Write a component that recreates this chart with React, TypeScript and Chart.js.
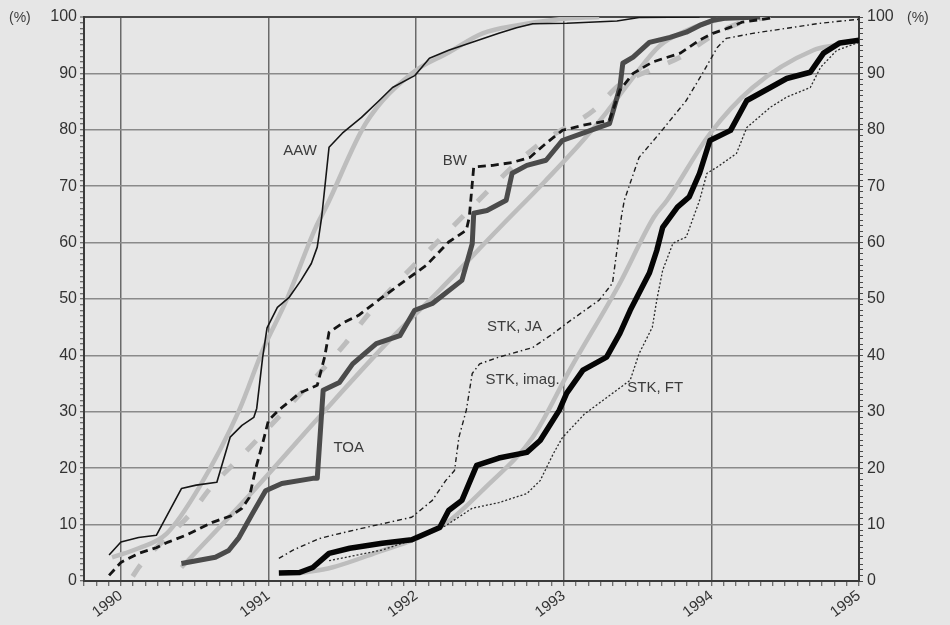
import { useEffect, useRef } from "react";
import { Chart, registerables } from "chart.js";

Chart.register(...registerables);

// ---------- axis / tick values ----------
const X_START = 1989.75;
const X_END = 1995;
const Y_MIN = 0;
const Y_MAX = 100;
const Y_LABEL_STEP = 10;

// ---------- series (decimal year, %) ----------
const aawX = [1989.92, 1990.0, 1990.12, 1990.24, 1990.41, 1990.51, 1990.65, 1990.74, 1990.82, 1990.9, 1990.92, 1990.96, 1990.99, 1991.06, 1991.14, 1991.22, 1991.29, 1991.33, 1991.36, 1991.41, 1991.5, 1991.63, 1991.75, 1991.84, 1991.99, 1992.09, 1992.22, 1992.41, 1992.56, 1992.68, 1992.79, 1993.02, 1993.36, 1993.51, 1993.92];
const aawY = [4.6, 6.9, 7.7, 8.1, 16.4, 17.0, 17.5, 25.5, 27.6, 29.0, 30.6, 39.6, 44.9, 48.5, 50.3, 53.3, 56.3, 59.2, 64.5, 76.9, 79.4, 82.2, 85.2, 87.5, 89.6, 92.7, 94.1, 95.8, 97.1, 98.1, 98.8, 98.9, 99.3, 99.9, 100];

const aawFitX = [1989.94, 1990.12, 1990.31, 1990.53, 1990.8, 1990.96, 1991.12, 1991.32, 1991.39, 1991.66, 1991.97, 1992.22, 1992.45, 1992.68, 1992.97, 1993.24];
const aawFitY = [4.2, 5.8, 8.4, 16.6, 30.2, 40.9, 49.7, 62.7, 66.3, 81.2, 90.0, 93.7, 97.1, 98.5, 99.6, 100];

const bwX = [1989.92, 1990.0, 1990.12, 1990.24, 1990.32, 1990.44, 1990.62, 1990.75, 1990.82, 1990.87, 1990.91, 1990.96, 1991.0, 1991.07, 1991.21, 1991.33, 1991.38, 1991.41, 1991.5, 1991.61, 1991.76, 1991.88, 1992.07, 1992.22, 1992.34, 1992.36, 1992.39, 1992.52, 1992.65, 1992.77, 1992.88, 1992.99, 1993.13, 1993.31, 1993.38, 1993.47, 1993.6, 1993.79, 1993.92, 1994.01, 1994.13, 1994.21, 1994.4];
const bwY = [1.0, 3.3, 4.9, 5.9, 6.9, 8.1, 10.4, 11.6, 12.9, 14.8, 19.6, 24.4, 28.5, 30.3, 33.3, 34.7, 39.7, 44.1, 45.7, 47.1, 50.1, 52.4, 56.0, 60.1, 62.2, 64.5, 73.4, 73.7, 74.2, 75.1, 77.6, 79.9, 80.8, 81.7, 87.0, 90.0, 92.0, 93.6, 95.9, 97.1, 98.2, 99.1, 99.8];

const bwFitX = [1990.08, 1990.12, 1990.48, 1990.61, 1990.83, 1991.52, 1991.68, 1992.22, 1992.82, 1993.2, 1993.38, 1993.58, 1993.79, 1993.99, 1994.2, 1994.4];
const bwFitY = [0.8, 2.4, 12.2, 16.6, 22.5, 42.1, 47.4, 62.1, 77.2, 83.4, 88.0, 90.5, 92.9, 96.4, 99.0, 100];

const toaX = [1990.41, 1990.64, 1990.73, 1990.8, 1990.89, 1990.98, 1991.09, 1991.3, 1991.33, 1991.37, 1991.48, 1991.57, 1991.73, 1991.89, 1991.99, 1992.11, 1992.31, 1992.38, 1992.39, 1992.48, 1992.61, 1992.65, 1992.75, 1992.88, 1992.99, 1993.13, 1993.31, 1993.38, 1993.4, 1993.47, 1993.58, 1993.72, 1993.83, 1993.92, 1994.01, 1994.1, 1994.33];
const toaY = [3.1, 4.2, 5.4, 7.7, 11.9, 16.0, 17.3, 18.2, 18.2, 33.8, 35.2, 38.5, 42.1, 43.5, 48.0, 49.2, 53.3, 59.8, 65.2, 65.7, 67.5, 72.3, 73.7, 74.6, 78.1, 79.4, 81.1, 87.5, 91.8, 92.9, 95.5, 96.4, 97.3, 98.5, 99.4, 99.8, 100];

const toaFitX = [1990.41, 1990.87, 1991.34, 1991.82, 1992.16, 1992.56, 1992.87, 1993.13, 1993.29, 1993.47, 1993.65, 1993.83, 1994.06, 1994.19];
const toaFitY = [2.4, 15.2, 29.0, 42.7, 51.6, 62.5, 70.8, 78.1, 83.1, 89.3, 94.9, 97.6, 99.6, 100];

const stkJaX = [1991.07, 1991.16, 1991.34, 1991.43, 1991.66, 1991.97, 1992.11, 1992.2, 1992.26, 1992.29, 1992.34, 1992.38, 1992.43, 1992.56, 1992.79, 1992.93, 1993.02, 1993.24, 1993.33, 1993.36, 1993.39, 1993.41, 1993.51, 1993.65, 1993.83, 1993.94, 1994.04, 1994.1, 1994.28, 1994.51, 1994.74, 1995.0];
const stkJaY = [4.0, 5.4, 7.5, 8.1, 9.5, 11.3, 14.3, 17.8, 19.6, 25.5, 30.3, 36.8, 38.5, 39.7, 41.4, 43.9, 45.7, 49.8, 52.8, 58.6, 64.5, 67.5, 75.1, 79.4, 85.2, 90.0, 94.6, 96.2, 97.1, 98.0, 98.9, 99.6];

const stkImagX = [1991.07, 1991.21, 1991.3, 1991.41, 1991.55, 1991.77, 1991.97, 1992.16, 1992.22, 1992.31, 1992.41, 1992.56, 1992.75, 1992.84, 1992.97, 1993.02, 1993.13, 1993.29, 1993.38, 1993.45, 1993.58, 1993.63, 1993.67, 1993.77, 1993.85, 1993.92, 1993.99, 1994.13, 1994.24, 1994.4, 1994.51, 1994.67, 1994.76, 1994.87, 1995.0];
const stkImagY = [1.4, 1.5, 2.4, 4.9, 5.8, 6.7, 7.3, 9.5, 12.5, 14.3, 20.5, 21.8, 22.8, 24.9, 30.3, 33.3, 37.4, 39.7, 43.9, 48.0, 54.6, 58.6, 62.7, 66.3, 68.1, 72.3, 78.1, 79.9, 85.2, 87.5, 89.1, 90.2, 93.6, 95.4, 95.9];

const stkFitX = [1991.21, 1991.43, 1991.77, 1991.97, 1992.2, 1992.47, 1992.79, 1993.04, 1993.38, 1993.61, 1993.7, 1993.99, 1994.28, 1994.69, 1994.84];
const stkFitY = [1.4, 2.4, 5.4, 7.2, 10.2, 16.6, 25.5, 37.4, 52.8, 64.5, 67.5, 79.3, 87.5, 94.1, 95.0];

const stkFtX = [1991.41, 1991.77, 1992.0, 1992.12, 1992.2, 1992.38, 1992.56, 1992.75, 1992.84, 1992.93, 1992.99, 1993.14, 1993.29, 1993.45, 1993.51, 1993.6, 1993.63, 1993.67, 1993.74, 1993.83, 1993.92, 1993.97, 1994.04, 1994.17, 1994.24, 1994.4, 1994.51, 1994.67, 1994.74, 1994.85, 1995.0];
const stkFtY = [3.6, 5.5, 7.5, 9.0, 9.8, 12.9, 13.9, 15.5, 17.8, 22.6, 25.4, 29.6, 32.5, 35.6, 40.3, 45.0, 49.8, 55.1, 59.9, 61.0, 67.5, 72.3, 73.4, 75.8, 80.4, 84.0, 85.8, 87.5, 91.1, 94.1, 95.5];

// ---------- in-plot labels (data coordinates) ----------
const seriesLabels = ["AAW", "BW", "TOA", "STK, JA", "STK, imag.", "STK, FT"];
const labelX = [1991.1, 1992.18, 1991.44, 1992.48, 1992.47, 1993.43];
const labelY = [76.2, 74.5, 23.6, 45.0, 35.6, 34.3];
const unitLabel = "(%)";

const toMonths = (yr: number) => (yr - 1990) * 12;
const pts = (xs: number[], ys: number[]) => xs.map((x, i) => ({ x: toMonths(x), y: ys[i] }));

const FONT = '"Liberation Sans", Arial, sans-serif';
const BG = "#e6e6e6";
const FIT = "#bdbdbd";

const labelPlugin = {
  id: "labelPlugin",
  afterDraw(chart: any) {
    const { ctx, scales } = chart;
    const xs = scales.x;
    const ys = scales.y;
    const y2 = scales.y2;
    ctx.save();
    ctx.fillStyle = "#3c3c3c";
    ctx.font = `15px ${FONT}`;
    ctx.textAlign = "left";
    ctx.textBaseline = "middle";
    seriesLabels.forEach((t, i) => {
      ctx.fillText(t, xs.getPixelForValue(toMonths(labelX[i])), ys.getPixelForValue(labelY[i]));
    });
    ctx.font = `14px ${FONT}`;
    const yTop = ys.getPixelForValue(Y_MAX);
    ctx.fillText(unitLabel, chart.chartArea.left - 75, yTop + 1);
    ctx.fillText(unitLabel, y2.left + 48, yTop + 1);
    ctx.restore();
  },
};

const bgPlugin = {
  id: "bgPlugin",
  beforeDraw(chart: any) {
    const { ctx, width, height } = chart;
    ctx.save();
    ctx.fillStyle = BG;
    ctx.fillRect(0, 0, width, height);
    ctx.restore();
  },
};

export default function App() {
  const ref = useRef<HTMLCanvasElement | null>(null);

  useEffect(() => {
    document.body.style.margin = "0";
    document.body.style.background = BG;
    const canvas = ref.current;
    if (!canvas) return;

    const line = (data: any, color: string, width: number, dash: number[], order: number) => ({
      data,
      borderColor: color,
      borderWidth: width,
      borderDash: dash,
      pointRadius: 0,
      tension: 0,
      fill: false,
      order,
      borderJoinStyle: "round",
      borderCapStyle: "butt",
    });
    const fit = (data: any, dash: number[], width: number) => ({
      ...line(data, FIT, width, dash, 10),
      cubicInterpolationMode: "monotone",
    });

    const chart = new Chart(canvas, {
      type: "line",
      data: {
        datasets: [
          line(pts(aawX, aawY), "#151515", 1.6, [], 1),
          line(pts(bwX, bwY), "#151515", 2.8, [8, 5], 1),
          line(pts(toaX, toaY), "#4b4b4b", 5, [], 2),
          line(pts(stkJaX, stkJaY), "#1e1e1e", 1.4, [5, 3, 1.5, 3], 1),
          line(pts(stkFtX, stkFtY), "#2a2a2a", 1.3, [2, 2], 1),
          line(pts(stkImagX, stkImagY), "#050505", 5.5, [], 0),
          fit(pts(aawFitX, aawFitY), [], 4.5),
          fit(pts(bwFitX, bwFitY), [14, 20], 5),
          fit(pts(toaFitX, toaFitY), [], 4.5),
          fit(pts(stkFitX, stkFitY), [], 4.5),
        ] as any,
      },
      options: {
        responsive: false,
        animation: false,
        devicePixelRatio: 1,
        layout: { padding: { top: 17, left: 0, right: 0, bottom: 0 } },
        plugins: { legend: { display: false }, tooltip: { enabled: false } },
        scales: {
          x: {
            type: "linear",
            min: toMonths(X_START),
            max: toMonths(X_END),
            afterFit: (s: any) => {
              s.height = 44;
            },
            border: { display: true, color: "#3a3a3a", width: 2 },
            grid: {
              color: (c: any) => (c.tick && c.tick.value % 12 === 0 ? "#6a6a6a" : "rgba(0,0,0,0)"),
              lineWidth: 1.5,
              tickColor: "#4a4a4a",
              tickLength: 5,
              tickWidth: 1,
              drawTicks: true,
            },
            ticks: {
              stepSize: 1,
              autoSkip: false,
              minRotation: 37,
              maxRotation: 37,
              padding: 1,
              color: "#333",
              font: { family: FONT, size: 15 },
              callback: (v: any) => (Number(v) % 12 === 0 ? String(1990 + Number(v) / 12) : ""),
            },
          },
          y: {
            type: "linear",
            position: "left",
            min: Y_MIN,
            max: Y_MAX,
            afterFit: (s: any) => {
              s.width = 84;
            },
            border: { display: true, color: "#3a3a3a", width: 2 },
            grid: {
              color: (c: any) =>
                c.tick && c.tick.value % Y_LABEL_STEP === 0
                  ? c.tick.value === Y_MAX
                    ? "#4a4a4a"
                    : "#8a8a8a"
                  : "rgba(0,0,0,0)",
              lineWidth: (c: any) => (c.tick && c.tick.value === Y_MAX ? 2 : 1.5),
              tickColor: "#4a4a4a",
              tickLength: 4,
              tickWidth: 1,
            },
            ticks: {
              stepSize: 1,
              autoSkip: false,
              padding: 3,
              color: "#333",
              font: { family: FONT, size: 16 },
              callback: (v: any) => (Number(v) % Y_LABEL_STEP === 0 ? String(v) : ""),
            },
          },
          y2: {
            type: "linear",
            position: "right",
            min: Y_MIN,
            max: Y_MAX,
            afterFit: (s: any) => {
              s.width = 91;
            },
            border: { display: true, color: "#3a3a3a", width: 2 },
            grid: {
              drawOnChartArea: false,
              tickColor: "#4a4a4a",
              tickLength: 4,
              tickWidth: 1,
            },
            ticks: {
              stepSize: 1,
              autoSkip: false,
              padding: 4,
              color: "#333",
              font: { family: FONT, size: 16 },
              callback: (v: any) => (Number(v) % Y_LABEL_STEP === 0 ? String(v) : ""),
            },
          },
        },
      } as any,
      plugins: [bgPlugin, labelPlugin],
    });

    return () => chart.destroy();
  }, []);

  return (
    <div style={{ width: 950, height: 625, background: BG }}>
      <canvas ref={ref} width={950} height={625} style={{ display: "block" }} />
    </div>
  );
}
